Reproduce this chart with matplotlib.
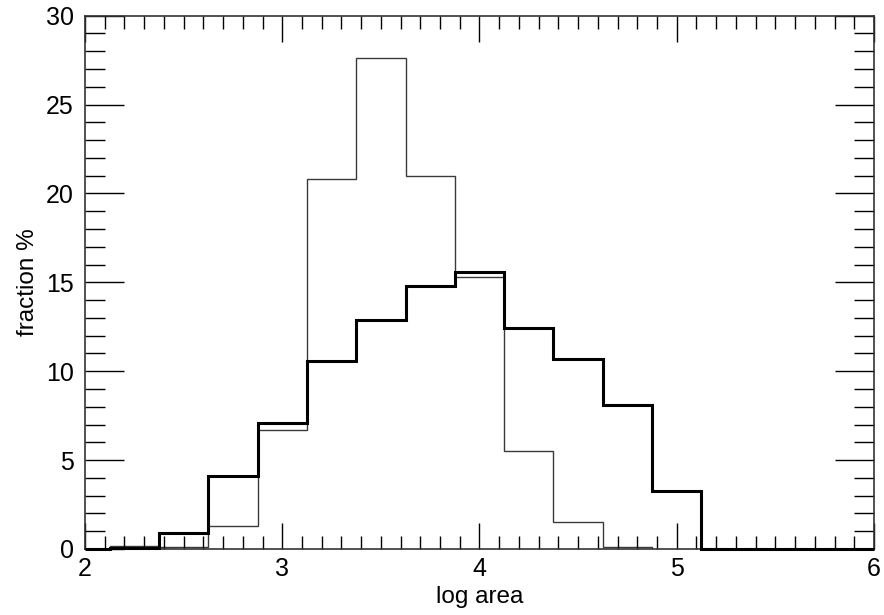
import numpy as np
import matplotlib
matplotlib.use("Agg")
import matplotlib.pyplot as plt

plt.rcParams['font.family'] = ['Liberation Sans', 'DejaVu Sans']

# histogram bins (log area), width 0.25
edges = np.array([2.125, 2.375, 2.625, 2.875, 3.125, 3.375, 3.625,
                  3.875, 4.125, 4.375, 4.625, 4.875, 5.125])

# thin line sample, % per bin
frac_thin = [0.17, 0.10, 1.31, 6.69, 20.81, 27.64, 21.0, 15.28,
             5.51, 1.50, 0.09, 0.0]
# thick line sample, % per bin
frac_thick = [0.05, 0.92, 4.09, 7.07, 10.59, 12.88, 14.81, 15.56,
              12.44, 10.70, 8.08, 3.24]

fig = plt.figure(figsize=(8.84, 6.15), dpi=100)
ax = fig.add_axes([85 / 884, 1 - 549 / 615, 789 / 884, 533.3 / 615])

# thin histogram, only up to the last non-empty bin
x_thin = edges[:12]
y_thin = frac_thin[:11]
ax.stairs(y_thin, x_thin, color='#3a3a3a', lw=1.0, baseline=0)

# thick histogram runs on at zero to the right edge
x_thick = np.append(np.insert(edges, 0, 2.0), 6.0)
y_thick = [0.0] + frac_thick + [0.0]
ax.stairs(y_thick, x_thick, color='black', lw=2.2, baseline=None,
          clip_on=False, zorder=3)

ax.set_xlim(2, 6)
ax.set_ylim(0, 30)
ax.set_xticks([2, 3, 4, 5, 6])
ax.set_xticks(np.arange(2, 6.01, 0.1), minor=True)
ax.set_yticks([0, 5, 10, 15, 20, 25, 30])
ax.set_yticks(np.arange(0, 30.1, 1), minor=True)

ax.tick_params(axis='x', which='major', direction='in', top=True,
               length=19, width=1.0, pad=6, labelsize=18)
ax.tick_params(axis='x', which='minor', direction='in', top=True,
               length=9.5, width=1.0)
ax.tick_params(axis='y', which='major', direction='in', right=True,
               length=28, width=1.0, pad=8, labelsize=18)
ax.tick_params(axis='y', which='minor', direction='in', right=True,
               length=14.5, width=1.0)
for s in ax.spines.values():
    s.set_linewidth(1.2)
    s.set_color('#333333')

ax.set_xlabel('log area', fontsize=17.5, labelpad=3)
ax.set_ylabel('fraction %', fontsize=17.5, labelpad=5)

fig.savefig('out.png', dpi=100)
